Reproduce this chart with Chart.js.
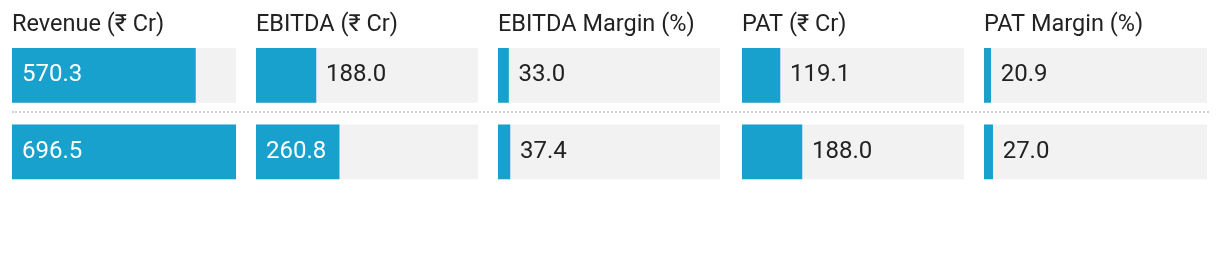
<!DOCTYPE html>
<html>
<head>
<meta charset="utf-8">
<script src="https://cdn.jsdelivr.net/npm/chart.js@4/dist/chart.umd.min.js"></script>
<style>
  body { margin: 0; background: #fff; }
  #wrap { position: relative; width: 1220px; height: 254px; }
  .col { position: absolute; top: 0; height: 190px; }
  #sep { position: absolute; left: 12px; top: 111px; width: 1197px; border-top: 2px dotted #d0d0d0; }
</style>
</head>
<body>
<div id="wrap">
  <div id="sep"></div>
</div>
<script>
const titles = ['Revenue (₹ Cr)', 'EBITDA (₹ Cr)', 'EBITDA Margin (%)', 'PAT (₹ Cr)', 'PAT Margin (%)'];
const rows = ['Row 1', 'Row 2'];
const revenue = [570.3, 696.5];
const ebitda = [188.0, 260.8];
const ebitdaMargin = [33.0, 37.4];
const pat = [119.1, 188.0];
const patMargin = [20.9, 27.0];

const series = [revenue, ebitda, ebitdaMargin, pat, patMargin];
// every column shares one scale, topped by the largest value
const scaleMax = Math.max(...series.flat());

const colLeft = [12, 256, 498, 742, 984];
const colWidth = [224, 222, 222, 222, 223];

const BLUE = '#18a1cd';
const TRACK = '#f2f2f2';

const valueLabels = {
  id: 'valueLabels',
  afterDatasetsDraw(chart) {
    const ctx = chart.ctx;
    const meta = chart.getDatasetMeta(0);
    const values = chart.data.datasets[0].data;
    ctx.save();
    ctx.font = '24px Roboto';
    ctx.textBaseline = 'middle';
    meta.data.forEach((bar, i) => {
      const text = values[i].toFixed(1);
      const tw = ctx.measureText(text).width;
      const w = bar.x - bar.base;
      if (tw + 20 <= w) {
        ctx.fillStyle = '#fff';
        ctx.fillText(text, bar.base + 10, bar.y);
      } else {
        ctx.fillStyle = '#222';
        ctx.fillText(text, bar.x + 10, bar.y);
      }
    });
    ctx.restore();
  }
};

function draw() {
  const wrap = document.getElementById('wrap');
  series.forEach((values, k) => {
    const box = document.createElement('div');
    box.className = 'col';
    box.style.left = colLeft[k] + 'px';
    box.style.width = colWidth[k] + 'px';
    const canvas = document.createElement('canvas');
    box.appendChild(canvas);
    wrap.appendChild(box);

    new Chart(canvas, {
      type: 'bar',
      data: {
        labels: rows,
        datasets: [
          { data: values, backgroundColor: BLUE, borderWidth: 0, barThickness: 54, grouped: false },
          { data: rows.map(() => scaleMax), backgroundColor: TRACK, borderWidth: 0, barThickness: 54, grouped: false }
        ]
      },
      options: {
        indexAxis: 'y',
        responsive: true,
        maintainAspectRatio: false,
        animation: false,
        layout: { padding: 0 },
        scales: {
          x: { display: false, min: 0, max: scaleMax },
          y: { display: false }
        },
        plugins: {
          legend: { display: false },
          tooltip: { enabled: false },
          title: {
            display: true,
            text: titles[k],
            align: 'start',
            color: '#222',
            font: { family: 'Roboto', size: 23.5, weight: 'normal', lineHeight: 1.03 },
            padding: { top: 13, bottom: 0 }
          }
        }
      },
      plugins: [valueLabels]
    });
  });
}

document.fonts.load('24px Roboto').then(draw, draw);
</script>
</body>
</html>
